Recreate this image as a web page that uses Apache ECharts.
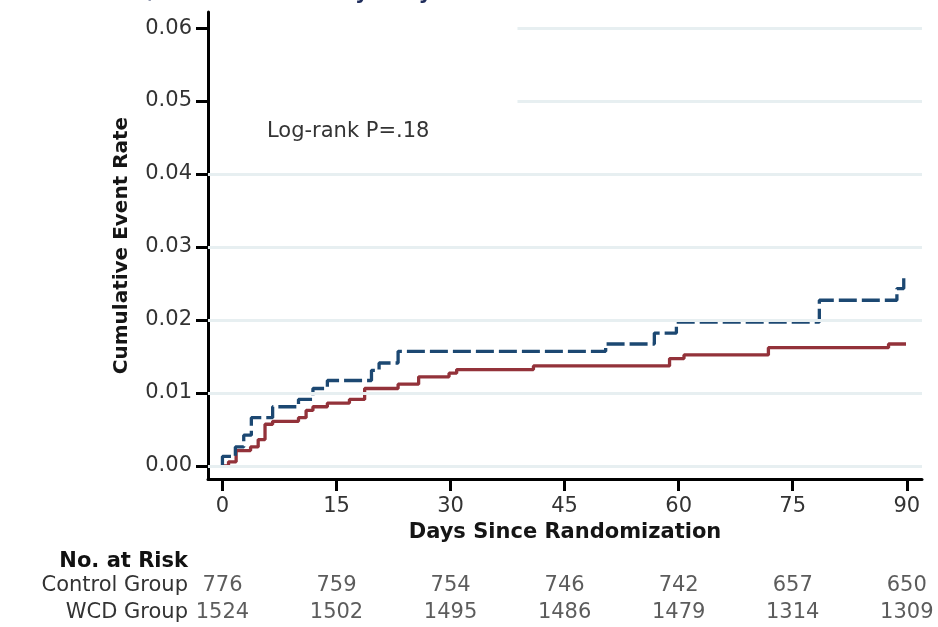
<!DOCTYPE html>
<html>
<head>
<meta charset="utf-8">
<script src="https://cdn.jsdelivr.net/npm/echarts@6/dist/echarts.min.js"></script>
<style>
html,body{margin:0;padding:0;background:#fff;}
#chart{width:938px;height:627px;}
</style>
</head>
<body>
<div id="chart"></div>
<script>
// ---- data ----
var xTicks = [0, 15, 30, 45, 60, 75, 90];
var yTicks = [0, 0.01, 0.02, 0.03, 0.04, 0.05, 0.06];
// Control group (blue dashed): [day, cumulative event rate]
var controlSteps = [[0,0],[0,0.0013],[1.7,0.0026],[2.8,0.0042],[3.8,0.0066],[6.6,0.0081],[10.0,0.0091],[11.9,0.0106],[13.8,0.0117],[19.6,0.0131],[20.6,0.0141],[23.1,0.0157],[50.4,0.0167],[56.8,0.0182],[59.7,0.0197],[78.5,0.0227],[88.7,0.0243],[89.6,0.0260]];
// WCD group (red solid)
var wcdSteps = [[0,0],[0.8,0.00055],[1.8,0.0021],[3.7,0.0026],[4.7,0.0036],[5.6,0.0057],[6.6,0.0061],[10.0,0.0066],[11.0,0.0076],[11.9,0.0081],[13.8,0.0086],[16.7,0.0091],[18.7,0.0106],[23.1,0.0112],[25.8,0.0122],[29.8,0.0127],[30.8,0.0132],[40.9,0.0137],[58.8,0.0147],[60.7,0.0152],[71.8,0.0162],[87.6,0.0167],[89.9,0.0167]];
var riskDays = [0, 15, 30, 45, 60, 75, 90];
var controlRisk = [776, 759, 754, 746, 742, 657, 650];
var wcdRisk = [1524, 1502, 1495, 1486, 1479, 1314, 1309];
var riskRows = ['WCD Group', 'Control Group'];
var fullGridLines = [0, 0.01, 0.02, 0.03, 0.04];
var partialGridLines = [0.05, 0.06];
var partialStart = 38.8;

var X_MIN = -1.9, X_MAX = 92, Y_MIN = -0.0018, Y_MAX = 0.0622;
var FONT = 'DejaVu Sans';
var gridColor = '#e7eff1';
var textColor = '#333333';

var markData = fullGridLines.map(function (v) { return { yAxis: v }; });
partialGridLines.forEach(function (v) {
  markData.push([{ coord: [partialStart, v] }, { coord: [X_MAX, v] }]);
});

function riskData(vals, row) {
  return riskDays.map(function (d, i) { return [d, row, vals[i]]; });
}

var chart = echarts.init(document.getElementById('chart'));
chart.setOption({
  animation: false,
  backgroundColor: '#fff',
  textStyle: { fontFamily: FONT },
  grid: [
    { left: 208, right: 16, top: 12, bottom: 148 },
    { left: 208, right: 16, top: 572, height: 54 }
  ],
  xAxis: [
    {
      gridIndex: 0, type: 'value', min: X_MIN, max: X_MAX,
      axisLine: { show: true, onZero: false, lineStyle: { color: '#000', width: 3 } },
      axisTick: { show: true, customValues: xTicks, length: 12, lineStyle: { color: '#000', width: 3 } },
      axisLabel: { show: true, customValues: xTicks, margin: 17, fontFamily: FONT, fontSize: 21, color: textColor },
      splitLine: { show: false },
      name: 'Days Since Randomization', nameLocation: 'middle', nameGap: 42,
      nameTextStyle: { fontFamily: FONT, fontSize: 21, fontWeight: 'bold', color: '#151515' }
    },
    {
      gridIndex: 1, type: 'value', min: X_MIN, max: X_MAX, show: false
    }
  ],
  yAxis: [
    {
      gridIndex: 0, type: 'value', min: Y_MIN, max: Y_MAX,
      axisLine: { show: true, onZero: false, lineStyle: { color: '#000', width: 3 } },
      axisTick: { show: true, customValues: yTicks, length: 12, lineStyle: { color: '#000', width: 3 } },
      axisLabel: { show: true, customValues: yTicks, margin: 16, fontFamily: FONT, fontSize: 21, color: textColor,
        formatter: function (v) { return v.toFixed(2); } },
      splitLine: { show: false },
      name: 'Cumulative Event Rate', nameLocation: 'middle', nameGap: 76,
      nameTextStyle: { fontFamily: FONT, fontSize: 20, fontWeight: 'bold', color: '#151515' }
    },
    {
      gridIndex: 1, type: 'category', data: riskRows,
      axisLine: { show: false }, axisTick: { show: false },
      axisLabel: { interval: 0, margin: 20, fontFamily: FONT, fontSize: 21, color: textColor }
    }
  ],
  graphic: [
    { type: 'text', left: 20, top: -17, silent: true,
      style: { text: 'A. Sudden / Ventricular Tachyarrhythmia', font: 'bold 21px "DejaVu Sans"', fill: '#1f2d5c' } },
    { type: 'text', x: 267, y: 132, silent: true,
      style: { text: 'Log-rank P=.18', font: '21px "DejaVu Sans"', fill: textColor, verticalAlign: 'middle' } },
    { type: 'text', x: 188, y: 562, silent: true,
      style: { text: 'No. at Risk', font: 'bold 21px "DejaVu Sans"', fill: '#111', align: 'right', verticalAlign: 'middle' } }
  ],
  series: [
    {
      type: 'line', xAxisIndex: 0, yAxisIndex: 0, data: [], z: 1, silent: true,
      markLine: { silent: true, symbol: 'none', label: { show: false },
        lineStyle: { type: 'solid', color: gridColor, width: 3 }, data: markData }
    },
    {
      name: 'WCD Group', type: 'line', xAxisIndex: 0, yAxisIndex: 0, step: 'end', data: wcdSteps,
      showSymbol: false, z: 3,
      lineStyle: { color: '#93323a', width: 3.3 }
    },
    {
      name: 'Control Group', type: 'line', xAxisIndex: 0, yAxisIndex: 0, step: 'end', data: controlSteps,
      showSymbol: false, z: 4,
      lineStyle: { color: '#1c4872', width: 3.3, type: [18, 5] }
    },
    {
      type: 'scatter', xAxisIndex: 1, yAxisIndex: 1, symbolSize: 1, itemStyle: { color: 'rgba(0,0,0,0)' },
      data: riskData(controlRisk, 1), silent: true,
      label: { show: true, position: 'inside', fontFamily: FONT, fontSize: 21, color: textColor,
        textBorderWidth: 0, formatter: function (p) { return String(p.value[2]); } }
    },
    {
      type: 'scatter', xAxisIndex: 1, yAxisIndex: 1, symbolSize: 1, itemStyle: { color: 'rgba(0,0,0,0)' },
      data: riskData(wcdRisk, 0), silent: true,
      label: { show: true, position: 'inside', fontFamily: FONT, fontSize: 21, color: textColor,
        textBorderWidth: 0, formatter: function (p) { return String(p.value[2]); } }
    }
  ]
});
</script>
</body>
</html>
